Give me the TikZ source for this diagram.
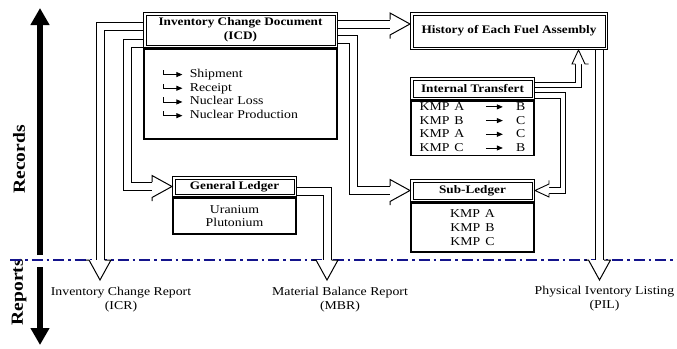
\documentclass[tikz,border=0pt]{standalone}
\usepackage{fontspec}
\setmainfont{Liberation Serif}[FakeStretch=1.15]
\usepackage{tikz}
\usetikzlibrary{arrows.meta,decorations.markings}
\definecolor{divblue}{RGB}{20,20,140}

\newcommand{\hookarr}{\tikz[baseline=0pt]\draw[line width=0.8pt,-{Triangle[length=6pt,width=5pt]}] (0pt,7.5pt) |- (19pt,3pt);}
\newcommand{\rarr}{\tikz[baseline=0pt]\draw[line width=0.8pt,-{Triangle[length=6pt,width=5pt]}] (0pt,3.5pt) -- (17pt,3.5pt);}

\tikzset{
  headbox/.style={draw, double, line width=1pt, double distance=1.5pt, outer sep=1.75pt,
    inner sep=0pt, align=center, font=\fontsize{11.5}{14}\selectfont\bfseries},
  bodybox/.style={draw, line width=1.6pt, inner sep=0pt, align=center,
    font=\fontsize{12}{13.7}\selectfont},
  hollow/.style={draw, double=white, line width=1pt, double distance=7pt, shorten >=10pt,
    postaction={decorate, decoration={markings, mark=at position 1 with {
      \fill[white] (-20pt,11pt) -- (0pt,0pt) -- (-20pt,-11pt) -- cycle;
      \draw[black, line width=1pt] (-20pt,4.5pt) -- (-20pt,11pt) -- (0pt,0pt) -- (-20pt,-11pt) -- (-20pt,-4.5pt);}}}},
  hollow small/.style={draw, double=white, line width=0.9pt, double distance=4.4pt, shorten >=7pt,
    postaction={decorate, decoration={markings, mark=at position 1 with {
      \fill[white] (-14pt,6.5pt) -- (0pt,0pt) -- (-14pt,-6.5pt) -- cycle;
      \draw[black, line width=0.9pt] (-14pt,3.1pt) -- (-14pt,6.5pt) -- (0pt,0pt) -- (-14pt,-6.5pt) -- (-14pt,-3.1pt);}}}},
  report/.style={align=center, font=\fontsize{12}{14}\selectfont},
  sidelabel/.style={rotate=90, font=\fontsize{17}{19}\selectfont\bfseries},
  axis arrow/.style={line width=5.5pt, -{Triangle[length=17pt,width=18pt]}},
  divider/.style={draw=divblue, line width=1.6pt, dash pattern=on 11pt off 4pt on 2.5pt off 4pt}
}

\begin{document}
\begin{tikzpicture}[x=1pt, y=-1pt]
  \useasboundingbox (0,0) rectangle (677,348);

  % records / reports axis
  \coordinate (recbot) at (40,255);
  \coordinate (rectop) at (40,8);
  \coordinate (reptop) at (40,267);
  \coordinate (repbot) at (40,345);
  \draw[axis arrow] (recbot) -- (rectop);
  \draw[axis arrow] (reptop) -- (repbot);
  \node[sidelabel] (records) at (19,159.5) {Records};
  \node[sidelabel] (reports) at (19,292) {Reports};

  % records / reports border
  \coordinate (divl) at (10,260);
  \coordinate (divr) at (677,260);
  \draw[divider] (divl) -- (divr);

  % records
  \node[headbox, minimum width=191.5pt, minimum height=32.5pt] (icdhead) at (240.5,30)
    {Inventory Change Document\\(ICD)};
  \node[bodybox, anchor=north, minimum width=193.4pt, minimum height=90.4pt,
        text width=155pt, inner xsep=19.2pt, align=left] (icdbody) at (icdhead.south)
    {\hookarr\hspace{7pt}Shipment\\
     \hookarr\hspace{7pt}Receipt\\
     \hookarr\hspace{7pt}Nuclear Loss\\
     \hookarr\hspace{7pt}Nuclear Production};

  \node[headbox, minimum width=194.5pt, minimum height=34.5pt] (history) at (509,31)
    {History of Each Fuel Assembly};

  \node[headbox, minimum width=121.5pt, minimum height=19.5pt] (ithead) at (472.5,88.5)
    {Internal Transfert};
  \node[bodybox, anchor=north, minimum width=123.4pt, minimum height=54.4pt] (itbody) at (ithead.south)
    {\begin{tabular}{@{}l@{\hspace{5pt}}l@{\hspace{21pt}}c@{\hspace{13pt}}l@{}}
      KMP & A & \rarr & B\\
      KMP & B & \rarr & C\\
      KMP & A & \rarr & C\\
      KMP & C & \rarr & B
     \end{tabular}};

  \node[headbox, minimum width=121.5pt, minimum height=19.5pt] (sublhead) at (472.5,190.5)
    {Sub-Ledger};
  \node[bodybox, anchor=north, minimum width=123.4pt, minimum height=49.4pt] (sublbody) at (sublhead.south)
    {KMP\hspace{5pt}A\\KMP\hspace{5pt}B\\KMP\hspace{5pt}C};

  \node[headbox, minimum width=121.5pt, minimum height=17.5pt] (glhead) at (234.5,186.5)
    {General Ledger};
  \node[bodybox, anchor=north, minimum width=123.4pt, minimum height=36.4pt] (glbody) at (glhead.south)
    {Uranium\\Plutonium};

  % reports
  \node[report] (icr) at (121,300) {Inventory Change Report\\(ICR)};
  \node[report] (mbr) at (340,300) {Material Balance Report\\(MBR)};
  \node[report] (pil) at (604.5,298.5) {Physical Iventory Listing\\(PIL)};
  \coordinate (icrend) at (100,280);
  \coordinate (mbrend) at (327,280);
  \coordinate (pilend) at (599.5,280);

  % flows
  \coordinate (icdout) at ([yshift=6pt]icdhead.east);
  \draw[hollow] (icdout) -- (icdout -| history.west);
  \draw[hollow] ([yshift=-9.5pt]icdhead.east) -- ++(15,0) |- (sublhead.west);
  \draw[hollow] ([yshift=4pt]icdhead.west) -| (icrend);
  \draw[hollow] ([yshift=-13.5pt]icdhead.west) -- ++(-16,0) |- (glhead.west);
  \draw[hollow] ([yshift=-4.5pt]glhead.east) -| (mbrend);
  \draw[hollow] (history.south -| pilend) -- (pilend);
  \draw[hollow small] ([yshift=3.5pt]ithead.east) -| ([xshift=69.5pt]history.south);
  \draw[hollow small] ([yshift=-7pt]ithead.east) -- ++(28,0) |- (sublhead.east);
\end{tikzpicture}
\end{document}
